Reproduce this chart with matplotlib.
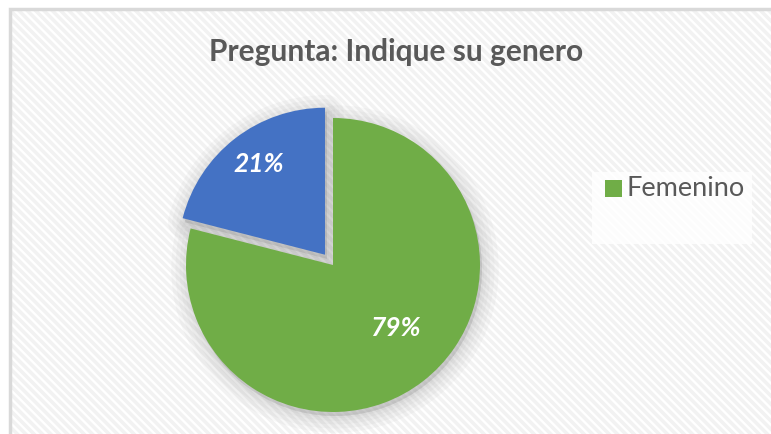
import matplotlib.pyplot as plt
from matplotlib.patches import Rectangle, Wedge
import matplotlib as mpl
import numpy as np

# datos de la encuesta
categorias = ['Femenino', 'Masculino']
porcentajes = [79, 21]
colores = ['#70ad47', '#4472c4']
titulo = 'Pregunta: Indique su genero'

plt.rcParams['font.family'] = ['Lato', 'DejaVu Sans']
mpl.rcParams['hatch.linewidth'] = 2.5
mpl.rcParams['hatch.color'] = '#f2f2f2'

W, H = 771, 435
fig = plt.figure(figsize=(W / 100, H / 100), dpi=100)
ax = fig.add_axes([0, 0, 1, 1])

# area del grafico con fondo rayado
fondo = Rectangle((10, -20), 800, H - 10 + 20, facecolor='white', edgecolor='#f2f2f2',
                  hatch='\\\\\\\\', linewidth=0, zorder=0)
ax.add_patch(fondo)
ax.add_patch(Rectangle((10, -20), 800, H - 10 + 20, facecolor='none', edgecolor='#d9d9d9',
                       linewidth=2.5, zorder=0.5))

centro = (333, H - 266)
radio = 147
explotar = [0, 13]  # en unidades de datos (pixeles)

wedges, textos, autotextos = ax.pie(porcentajes, colors=colores, startangle=90, counterclock=False,
                                    center=centro, radius=radio, explode=explotar,
                                    autopct='%1.0f%%', pctdistance=0.6,
                                    textprops=dict(color='white', fontsize=19, fontweight='bold',
                                                   fontstyle='italic'))

# sombra difusa detras de las porciones
for w in wedges:
    w.set_zorder(3)
    for lw in [24, 18, 12, 7, 3]:
        s = Wedge((w.center[0] + 2, w.center[1] - 4), w.r, w.theta1, w.theta2,
                  facecolor='#7f7f7f', edgecolor='#7f7f7f', linewidth=lw, alpha=0.05,
                  joinstyle='round', zorder=2)
        ax.add_patch(s)

# posicion de etiquetas parecida a la de Excel
dist = [0.6, 0.77]
ang = [-45, 126]
for w, t, d, a in zip(wedges, autotextos, dist, ang):
    t.set_position((w.center[0] + d * radio * np.cos(np.radians(a)),
                    w.center[1] + d * radio * np.sin(np.radians(a))))
    t.set_zorder(5)

ax.set_xlim(0, W)
ax.set_ylim(0, H)
ax.set_aspect('equal')
ax.axis('off')

ax.text(396, H - 52, titulo, ha='center', va='center', fontsize=21.5, fontweight='bold',
        color='#595959', zorder=5)

# leyenda (solo se ve la primera entrada)
ax.add_patch(Rectangle((592, H - 245), 160, 72, facecolor='white', edgecolor='none',
                       alpha=0.8, zorder=4))
ax.add_patch(Rectangle((605, H - 198), 17, 17, facecolor=colores[0], zorder=5))
ax.text(627, H - 189, categorias[0], ha='left', va='center', fontsize=19.5, color='#595959', zorder=5)

fig.savefig('out.png', dpi=100)
